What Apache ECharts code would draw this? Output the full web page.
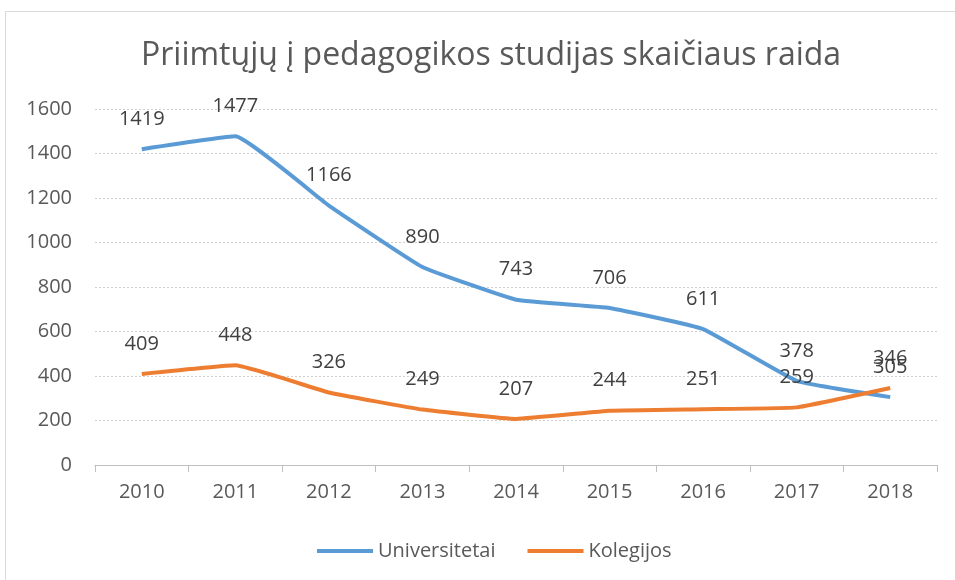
<!DOCTYPE html>
<html>
<head>
<meta charset="utf-8">
<script src="https://cdn.jsdelivr.net/npm/echarts@6/dist/echarts.min.js"></script>
<style>
  html, body { margin: 0; padding: 0; background: #fff; }
  #chart { width: 955px; height: 580px; }
</style>
</head>
<body>
<div id="chart"></div>
<script>
const years = ['2010', '2011', '2012', '2013', '2014', '2015', '2016', '2017', '2018'];
const universitetai = [1419, 1477, 1166, 890, 743, 706, 611, 378, 305];
const kolegijos = [409, 448, 326, 249, 207, 244, 251, 259, 346];

const font = '"Open Sans", "Noto Sans", sans-serif';

const chart = echarts.init(document.getElementById('chart'));

const labelStyle = {
  show: true,
  position: 'top',
  distance: 20,
  fontFamily: font,
  fontSize: 20,
  color: '#404040'
};

chart.setOption({
  animation: false,
  backgroundColor: '#fff',
  graphic: [{
    type: 'rect',
    shape: { x: 5.5, y: 11.5, width: 960, height: 580 },
    style: { fill: 'none', stroke: '#d9d9d9', lineWidth: 1 },
    silent: true
  }],
  title: {
    text: 'Priimtųjų į pedagogikos studijas skaičiaus raida',
    left: 136,
    top: 35,
    textStyle: {
      fontFamily: font,
      fontWeight: 'normal',
      fontSize: 32,
      color: '#595959'
    }
  },
  legend: {
    top: 536,
    left: 312,
    itemWidth: 56,
    itemHeight: 4,
    itemGap: 32,
    icon: 'rect',
    textStyle: { fontFamily: font, fontSize: 20, color: '#595959' },
    data: ['Universitetai', 'Kolegijos']
  },
  grid: {
    left: 95,
    right: 18,
    top: 109,
    bottom: 115
  },
  xAxis: {
    type: 'category',
    data: years,
    boundaryGap: true,
    axisLine: { lineStyle: { color: '#bfbfbf' } },
    axisTick: { show: true, length: 7, lineStyle: { color: '#bfbfbf' } },
    axisLabel: { fontFamily: font, fontSize: 20, color: '#595959', margin: 17 }
  },
  yAxis: {
    type: 'value',
    min: 0,
    max: 1600,
    interval: 200,
    axisLine: { show: false },
    axisTick: { show: false },
    axisLabel: {
      fontFamily: font, fontSize: 20, color: '#595959', margin: 23,
      formatter: v => String(v)
    },
    splitLine: { lineStyle: { color: '#d0d0d0', type: [2, 2] } }
  },
  series: [
    {
      name: 'Universitetai',
      type: 'line',
      data: universitetai,
      smooth: 0.1,
      symbol: 'circle',
      symbolSize: 0,
      showSymbol: true,
      lineStyle: { width: 4, color: '#5b9bd5' },
      itemStyle: { color: '#5b9bd5' },
      label: labelStyle
    },
    {
      name: 'Kolegijos',
      type: 'line',
      data: kolegijos,
      smooth: 0.1,
      symbol: 'circle',
      symbolSize: 0,
      showSymbol: true,
      lineStyle: { width: 4, color: '#ed7d31' },
      itemStyle: { color: '#ed7d31' },
      label: labelStyle
    }
  ]
});
</script>
</body>
</html>
